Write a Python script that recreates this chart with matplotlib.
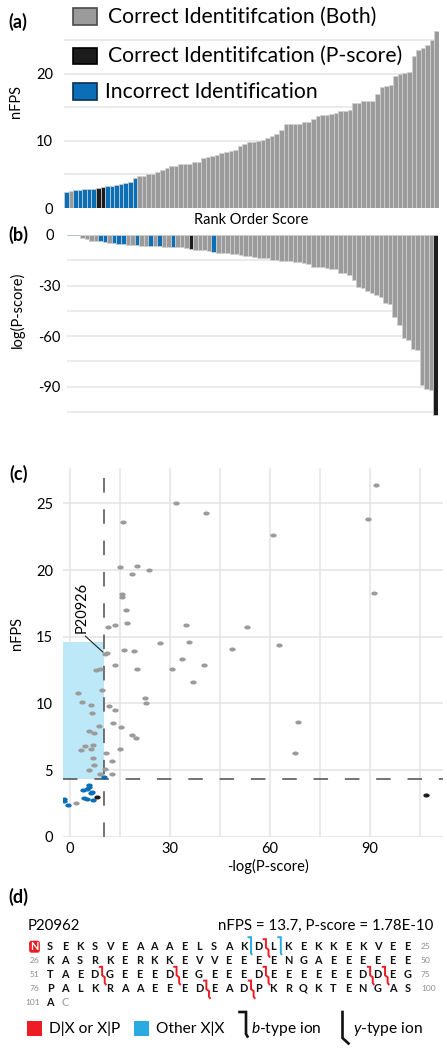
import numpy as np
import matplotlib
matplotlib.use('Agg')
import matplotlib.pyplot as plt
from matplotlib.patches import Rectangle, FancyBboxPatch
from matplotlib.ticker import MultipleLocator, FixedLocator

plt.rcParams['font.family'] = ['Lato', 'DejaVu Sans']
plt.rcParams['axes.unicode_minus'] = False
plt.rcParams['mathtext.fontset'] = 'custom'
plt.rcParams['mathtext.rm'] = 'Lato'
plt.rcParams['mathtext.it'] = 'Lato:italic'

# ---------------- data ----------------
categories = ['Correct Identitifcation (Both)',
              'Correct Identitifcation (P-score)',
              'Incorrect Identification']
cat_colors = ['#9b9b9b', '#1c1c1c', '#0b6fb8']
cat_edges = ['#4a4a4a', '#000000', '#0a2f50']

both_neglogp = [91.7, 31.7, 40.8, 16.0, 89.3, 61.0, 15.1, 20.2, 23.6, 18.7,
                15.5, 15.5, 91.1, 16.7, 17.0, 13.5, 34.7, 53.2, 11.5, 26.9,
                35.7, 48.7, 62.6, 16.2, 19.1, 10.5, 11.0, 33.5, 13.4, 40.2,
                20.2, 30.7, 7.7, 9.0, 37.0, 9.7, 2.5, 22.5, 22.7, 3.6,
                6.3, 11.7, 13.5, 6.5, 68.4, 12.9, 8.7, 15.4, 5.8, 7.3,
                18.7, 19.8, 7.0, 4.5, 3.3, 6.3, 14.9, 67.6, 10.8, 7.0,
                12.6, 7.3, 10.5, 5.8, 9.1, 12.7, 1.8]
both_nfps = [26.4, 25.0, 24.3, 23.6, 23.8, 22.6, 20.2, 20.3, 20.0, 19.7,
             18.2, 18.0, 18.3, 17.0, 16.0, 15.9, 15.9, 15.7, 15.7, 14.5,
             14.6, 14.1, 14.4, 14.0, 13.9, 13.7, 13.8, 13.3, 12.9, 12.9,
             12.6, 12.6, 12.5, 12.6, 11.6, 11.0, 10.8, 10.4, 10.0, 10.1,
             9.9, 9.8, 9.5, 9.3, 8.6, 8.5, 8.3, 8.2, 7.9, 7.8,
             7.6, 7.4, 6.9, 6.8, 6.5, 6.6, 6.6, 6.3, 6.3, 5.9,
             5.7, 5.4, 5.1, 5.0, 4.7, 4.7, 2.5]
pscore_neglogp = [8.2, 106.7]
pscore_nfps = [3.0, 3.1]
incorrect_neglogp = [-0.7, -1.9, -1.9, 7.0, 5.0, 4.3, 6.4, 6.6, 3.8, 5.2, 5.6, 5.8, 10.3]
incorrect_nfps = [2.35, 2.65, 2.8, 2.75, 2.85, 2.9, 3.3, 3.35, 3.5, 3.6, 3.75, 3.9, 4.5]

pscore_cut = 10.3
nfps_cut = 4.35
box_top = 14.6
highlight_label = 'P20926'
highlight_index = 25

protein_id = 'P20962'
protein_stats = 'nFPS = 13.7, P-score = 1.78E-10'
seq_rows = ['SEKSVEAAAELSAKDLKEKKEKVEE',
            'KASRKERKKEVVEEEENGAEEEEEE',
            'TAEDGEEEDEGEEEDEEEEEEDDEG',
            'PALKRAAEEEDEADPKRQKTENGAS',
            'AC']
# (row, cut after residue number within row, type)
cleavages = [(0, 14, 'other'), (0, 15, 'dp'), (0, 16, 'other'),
             (2, 4, 'dp'), (2, 9, 'dp'), (2, 15, 'dp'), (2, 22, 'dp'), (2, 23, 'dp'),
             (3, 11, 'dp'), (3, 14, 'dp')]

neglogp = np.array(both_neglogp + pscore_neglogp + incorrect_neglogp)
nfps = np.array(both_nfps + pscore_nfps + incorrect_nfps)
cat = np.array([0] * len(both_nfps) + [1] * len(pscore_nfps) + [2] * len(incorrect_nfps))
colors = np.array(cat_colors)[cat]
n = len(nfps)

# ---------------- figure ----------------
W, H = 447, 1050
fig = plt.figure(figsize=(W / 100, H / 100), dpi=100)

def pos(l, t, r, b):
    return [l / W, 1 - b / H, (r - l) / W, (b - t) / H]

grid_c = '#e6e6e6'

# ---- (a)
ax_a = fig.add_axes(pos(64, 27, 439, 208))
order_a = np.argsort(nfps, kind='stable')
ax_a.bar(np.arange(n), nfps[order_a], width=1.0, color=colors[order_a],
         edgecolor='#d2d2d2', linewidth=0.5, zorder=2)
ax_a.set_xlim(-0.5, n - 0.5)
ax_a.set_ylim(0, 27.0)
ax_a.yaxis.set_major_locator(FixedLocator([0, 10, 20]))
ax_a.yaxis.set_minor_locator(FixedLocator([5, 15, 25]))
ax_a.grid(axis='y', which='both', color=grid_c, lw=1.1, zorder=0)
ax_a.set_axisbelow(True)
ax_a.set_xticks([])
ax_a.tick_params(axis='y', which='both', length=0, labelsize=10.5, pad=8)
for s in ax_a.spines.values():
    s.set_visible(False)
ax_a.set_ylabel('nFPS', fontsize=10.5)
ax_a.yaxis.set_label_coords((23 - 64) / 375, 0.59)
ax_a.set_xlabel('Rank Order Score', fontsize=10.5)
ax_a.xaxis.set_label_coords(0.5, -0.03)

# ---- (b)
ax_b = fig.add_axes(pos(66.7, 235, 437.7, 417))
order_b = np.argsort(neglogp, kind='stable')
ax_b.bar(np.arange(n), -neglogp[order_b], width=1.0, color=colors[order_b],
         edgecolor='#d2d2d2', linewidth=0.5, zorder=2)
ax_b.set_xlim(-0.5, n - 0.5)
ax_b.set_ylim(-108, 0)
ax_b.yaxis.set_major_locator(FixedLocator([0, -30, -60, -90]))
ax_b.yaxis.set_minor_locator(FixedLocator([-15, -45, -75, -105]))
ax_b.grid(axis='y', which='both', color=grid_c, lw=1.1, zorder=0)
ax_b.set_axisbelow(True)
ax_b.set_xticks([])
ax_b.tick_params(axis='y', which='both', length=0, labelsize=10.5, pad=12.5)
for lab in ax_b.get_yticklabels():
    lab.set_horizontalalignment('center')
for s in ax_b.spines.values():
    s.set_visible(False)
ax_b.set_ylabel('log(P-score)', fontsize=10.5)
ax_b.yaxis.set_label_coords((25 - 66.7) / 371, 0.59)

# ---- (c)
ax_c = fig.add_axes(pos(62.7, 468, 443, 836.7))
xl = (-2.2, 111.9)
ax_c.set_xlim(*xl)
ax_c.set_ylim(0, 27.65)
ax_c.add_patch(Rectangle((xl[0], nfps_cut), pscore_cut - xl[0], box_top - nfps_cut,
                         facecolor='#bde8f8', edgecolor='none', zorder=1))
ax_c.xaxis.set_major_locator(FixedLocator([0, 30, 60, 90]))
ax_c.xaxis.set_minor_locator(FixedLocator([15, 45, 75, 105]))
ax_c.yaxis.set_major_locator(MultipleLocator(5))
ax_c.grid(which='both', color=grid_c, lw=1.2, zorder=0)
ax_c.set_axisbelow(True)
ax_c.tick_params(which='both', length=0, labelsize=10.5)
ax_c.tick_params(axis='y', pad=7)
ax_c.tick_params(axis='x', pad=4)
for s in ax_c.spines.values():
    s.set_visible(False)
ax_c.axvline(pscore_cut, color='#4d4d4d', lw=1.1, dashes=(9.5, 11), zorder=2)
ax_c.axhline(nfps_cut, color='#4d4d4d', lw=1.1, dashes=(9.5, 11), zorder=2)

t = np.linspace(0, 2 * np.pi, 40)
ell = list(zip(np.cos(t), 0.64 * np.sin(t)))
for k in [0, 2, 1]:
    m = cat == k
    ax_c.scatter(neglogp[m], nfps[m], s=21, marker=ell, color=cat_colors[k],
                 linewidths=0, zorder=3)
ax_c.annotate(highlight_label, xy=(neglogp[highlight_index], nfps[highlight_index]),
              xytext=(-16.5, 15), textcoords='offset points', rotation=90,
              ha='center', va='bottom', fontsize=10.5,
              arrowprops=dict(arrowstyle='-', color='#222222', lw=0.8,
                              relpos=(0.5, 0.0), shrinkA=0, shrinkB=2), zorder=4)
ax_c.set_ylabel('nFPS', fontsize=10.5)
ax_c.yaxis.set_label_coords((24 - 62.7) / 380.3, 0.55)
ax_c.set_xlabel('-log(P-score)', fontsize=10.5)
ax_c.xaxis.set_label_coords(0.54, -0.06)

# ---------------- overlay: panel letters, legends, sequence ----------------
ov = fig.add_axes([0, 0, 1, 1], zorder=5)
ov.set_xlim(0, W)
ov.set_ylim(H, 0)
ov.axis('off')
ov.patch.set_alpha(0)

for lbl, x, y in [('(a)', 8, 22), ('(b)', 8, 235), ('(c)', 9, 474), ('(d)', 8, 897)]:
    ov.text(x, y, lbl, fontsize=13, fontweight='bold', ha='left', va='center')

# legend of (a)
leg_y = [16.7, 56.2, 91.7]
leg_x = [108, 108, 105]
for i in range(3):
    ov.add_patch(Rectangle((72.7, leg_y[i] - 8.3), 24.6, 16.6,
                           facecolor=cat_colors[i], edgecolor=cat_edges[i], lw=1.2))
    ov.text(leg_x[i], leg_y[i] + 6.0, categories[i], fontsize=15.2, ha='left', va='baseline')

# (d) header
ov.text(28, 925 + 5, protein_id, fontsize=10.8, ha='left', va='baseline')
ov.text(433, 925 + 5, protein_stats, fontsize=10.8, ha='right', va='baseline')

col0_x, col_dx = 50.0, 14.89
row0_y, row_dy = 946.7, 13.8
red, cyan = '#ee1c25', '#29abe2'
for r, row in enumerate(seq_rows):
    y = row0_y + r * row_dy
    for k, ch in enumerate(row):
        x = col0_x + k * col_dx
        last = (r == len(seq_rows) - 1 and k == len(row) - 1)
        ov.text(x, y + 3.7, ch, fontsize=7.8, ha='center', va='baseline',
                fontweight='normal' if last else 'bold',
                color='#9a9a9a' if last else '#111111')
    if r > 0:
        ov.text(39.5, y + 2.6, str(1 + 25 * r), fontsize=6, color='#8c8c8c',
                ha='right', va='baseline')
    if len(row) == 25:
        ov.text(421, y + 2.6, str(25 * (r + 1)), fontsize=6, color='#8c8c8c',
                ha='left', va='baseline')

ov.add_patch(FancyBboxPatch((34.5 - 4.6, row0_y - 5.2), 9.2, 10.4,
                            boxstyle='round,pad=0.8,rounding_size=2.5',
                            facecolor=red, edgecolor='none'))
ov.text(34.5, row0_y + 3.7, 'N', fontsize=7.8, fontweight='bold', color='white',
        ha='center', va='baseline')

for r, c, kind in cleavages:
    x = col0_x + (c - 0.5) * col_dx
    y0 = row0_y + r * row_dy
    if kind == 'other':
        xs = [x - 2.5, x, x, x + 0.6]
        ys = [y0 - 9.5, y0 - 9.5, y0 + 6.5, y0 + 7.5]
        ov.plot(xs, ys, color=cyan, lw=1.4, solid_joinstyle='miter')
    else:
        xs = [x - 2.3, x, x, x + 2.6, x + 2.6, x + 3.6]
        ys = [y0 - 7.5, y0 - 7.5, y0 + 1.0, y0 + 3.0, y0 + 8.5, y0 + 10.0]
        ov.plot(xs, ys, color=red, lw=1.4, solid_joinstyle='miter')

# legend of (d)
ly = 1028
ov.add_patch(Rectangle((27, ly - 7.5), 15, 15, facecolor=red, edgecolor='none'))
ov.text(49, ly + 5.2, 'D|X or X|P', fontsize=11.2, ha='left', va='baseline')
ov.add_patch(Rectangle((134, ly - 7.5), 15, 15, facecolor=cyan, edgecolor='none'))
ov.text(156, ly + 5.2, 'Other X|X', fontsize=11.2, ha='left', va='baseline')
ov.plot([239.5, 246, 246, 247.5], [1012, 1012, 1034, 1036.5], color='#111111', lw=1.9,
        solid_joinstyle='miter')
ov.text(251, ly + 5.2, r'$\mathit{b}$-type ion', fontsize=11.2, ha='left', va='baseline')
ov.plot([342.5, 342.5, 348.5], [1012, 1038, 1043.5], color='#111111', lw=1.9,
        solid_joinstyle='miter')
ov.text(353, ly + 5.2, r'$\mathit{y}$-type ion', fontsize=11.2, ha='left', va='baseline')

fig.savefig('out.png', dpi=100)
